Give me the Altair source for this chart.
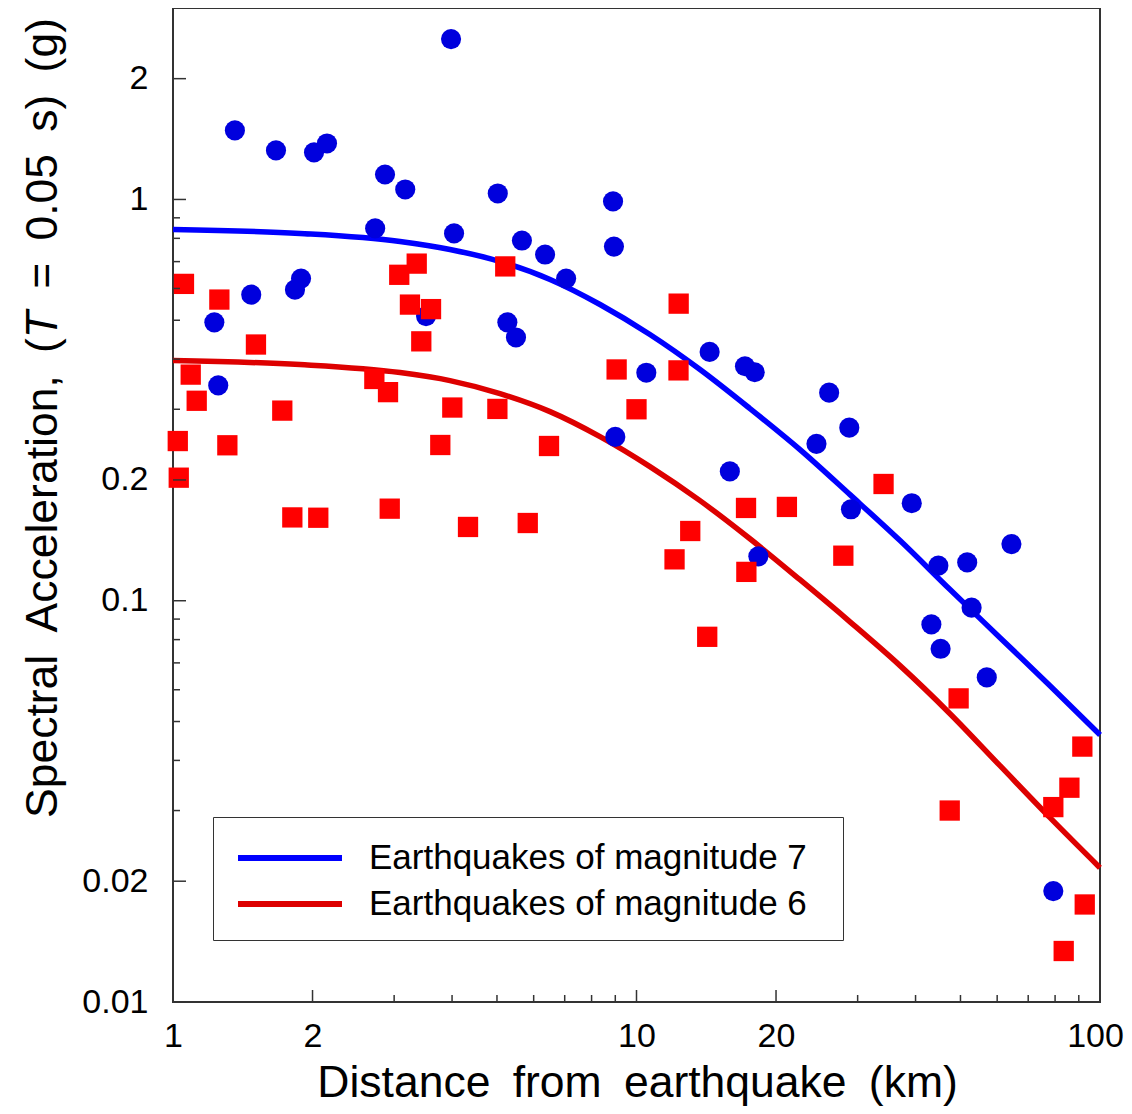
import altair as alt
import pandas as pd

# ---------------- data ----------------
blue_x = [3.98, 1.36, 1.668, 2.015, 2.149, 2.867, 3.17, 5.02, 8.9, 2.73, 4.04, 5.66, 6.35,
          8.94, 7.05, 1.833, 1.889, 1.475, 1.228, 1.252, 3.515, 5.265, 5.495, 14.38, 17.14,
          17.99, 10.5, 26.04, 28.78, 24.45, 9.0, 15.9, 39.25, 29.02, 64.4, 44.8, 51.7, 18.32,
          52.84, 43.27, 45.3, 56.98, 79.3]
blue_y = [2.51, 1.486, 1.325, 1.31, 1.379, 1.154, 1.059, 1.035, 0.989, 0.847, 0.823, 0.79, 0.729,
          0.763, 0.635, 0.596, 0.635, 0.579, 0.494, 0.344, 0.512, 0.494, 0.453, 0.417, 0.384,
          0.371, 0.37, 0.33, 0.27, 0.246, 0.256, 0.21, 0.175, 0.169, 0.1384, 0.1223, 0.1246, 0.129,
          0.0961, 0.0873, 0.0759, 0.0644, 0.0189]

red_x = [1.056, 1.259, 1.51, 3.077, 3.356, 3.245, 3.603, 3.433, 5.21, 1.092, 1.125, 1.024, 1.029,
         1.31, 1.721, 1.809, 2.058, 2.719, 2.91, 2.935, 4.005, 3.773, 4.33, 5.01, 6.475, 5.826,
         9.06, 10.0, 12.33, 12.32, 34.12, 17.23, 21.11, 13.06, 12.08, 17.26, 27.94, 14.21, 49.54,
         47.4, 79.3, 85.9, 91.6, 92.7, 83.5]
red_y = [0.616, 0.563, 0.435, 0.649, 0.692, 0.547, 0.533, 0.443, 0.681, 0.366, 0.315, 0.25, 0.2026,
         0.244, 0.2977, 0.1613, 0.161, 0.357, 0.331, 0.1696, 0.303, 0.2444, 0.1527, 0.3006, 0.243, 0.1562,
         0.377, 0.30, 0.55, 0.375, 0.1954, 0.1703, 0.1713, 0.1492, 0.1268, 0.118, 0.1295, 0.0813, 0.0571,
         0.030, 0.0306, 0.0342, 0.0433, 0.0175, 0.0134]

curve_x = [1.0, 1.879, 3.089, 3.959, 5.076, 6.508, 8.342, 10.69, 13.71, 17.57, 22.53, 28.88,
           37.03, 47.47, 60.85, 78.0, 100.0]
m7_y = [0.8417, 0.8227, 0.7857, 0.7504, 0.7004, 0.6317, 0.5472, 0.4606, 0.3768, 0.3012, 0.2380,
        0.1838, 0.1412, 0.1066, 0.0809, 0.0614, 0.0463]
m6_y = [0.3967, 0.3877, 0.3703, 0.3537, 0.3282, 0.2960, 0.2564, 0.2159, 0.1776, 0.1427, 0.1128,
        0.0886, 0.0689, 0.0523, 0.0388, 0.0288, 0.0216]

series_names = ["Earthquakes of magnitude 7", "Earthquakes of magnitude 6"]

x_major = [1, 2, 10, 20, 100]
x_minor = [3, 4, 5, 6, 7, 8, 9, 30, 40, 50, 60, 70, 80, 90]
y_major = [0.01, 0.02, 0.1, 0.2, 1, 2]
y_minor = [0.03, 0.04, 0.05, 0.06, 0.07, 0.08, 0.09, 0.3, 0.4, 0.5, 0.6, 0.7, 0.8, 0.9]

# ---------------- tables ----------------
blue_df = pd.DataFrame({"x": blue_x, "y": blue_y})
red_df = pd.DataFrame({"x": red_x, "y": red_y})
curve_df = pd.concat([
    pd.DataFrame({"x": curve_x, "y": m7_y, "series": series_names[0]}),
    pd.DataFrame({"x": curve_x, "y": m6_y, "series": series_names[1]}),
])

FONT = "Liberation Sans, Arial, sans-serif"
TS = 44.5
W, H = 927, 994
xs = alt.Scale(type="log", domain=[1, 100], nice=False)
ys = alt.Scale(type="log", domain=[0.01, 3], nice=False)

x_axis = alt.Axis(values=x_major, format="~g", ticks=False, tickSize=0, domain=False, grid=False,
                  labelFont=FONT, labelFontSize=34, labelColor="black", labelPadding=17,
                  labelFlush=False, labelOverlap=False,
                  labelOffset={"condition": {"test": "datum.value == 100", "value": -5}, "value": 0},
                  title="Distance\u2002from\u2002earthquake\u2002(km)", titleFont=FONT,
                  titleFontSize=TS, titleFontWeight="normal", titleColor="black",
                  titleX=464, titleY=94, titleBaseline="alphabetic", titleAlign="center")
y_axis = alt.Axis(values=y_major, format="~g", ticks=False, tickSize=0, domain=False, grid=False,
                  labelFont=FONT, labelFontSize=34, labelColor="black", labelPadding=25,
                  labelFlush=False, labelOverlap=False, title=None)

def X(field):
    return alt.X(field, scale=xs, axis=x_axis)

def Y(field):
    return alt.Y(field, scale=ys, axis=y_axis)

lines = alt.Chart(curve_df).mark_line(strokeWidth=5.5, interpolate="monotone").encode(
    x=X("x:Q"), y=Y("y:Q"),
    color=alt.Color("series:N",
                    scale=alt.Scale(domain=series_names, range=["#0000FF", "#DD0000"]),
                    legend=alt.Legend(orient="none", legendX=40, legendY=809, title=None,
                                      direction="vertical", padding=18, strokeColor="#333",
                                      fillColor="white", labelFont=FONT, labelFontSize=35,
                                      labelColor="black", labelLimit=1000,
                                      labelExpr="datum.label + '\u2002\u200b'",
                                      symbolType="M-2.6,0H2.6", symbolSize=1600,
                                      symbolStrokeWidth=6, symbolOffset=36, labelOffset=56,
                                      rowPadding=5)),
    detail="series:N",
)

circles = alt.Chart(blue_df).mark_circle(size=405, color="#0000DD", opacity=1).encode(
    x=X("x:Q"), y=Y("y:Q"))

squares = alt.Chart(red_df).mark_square(size=412, color="#FF0000", opacity=1).encode(
    x=X("x:Q"), y=Y("y:Q"))

def xticks(vals, length):
    return alt.Chart(pd.DataFrame({"v": vals})).mark_rule(color="#333", strokeWidth=1.5).encode(
        x=X("v:Q"), y=alt.value(H), y2=alt.value(H - length))

def yticks(vals, length):
    return alt.Chart(pd.DataFrame({"v": vals})).mark_rule(color="#333", strokeWidth=1.5).encode(
        y=Y("v:Q"), x=alt.value(0), x2=alt.value(length))

one = pd.DataFrame({"k": [0]})

def vtext(txt, ypos, italic=False):
    kw = dict(text=txt, angle=270, align="left", baseline="alphabetic", font=FONT,
              fontSize=TS, color="black")
    if italic:
        kw["fontStyle"] = "italic"
    return alt.Chart(one).mark_text(**kw).encode(x=alt.value(-116), y=alt.value(ypos))

ytitle = [
    vtext("Spectral\u2002Acceleration,\u2002(", 810),
    vtext("T", 330.2, italic=True),
    vtext("=\u20020.05\u2002s)\u2002(g)", 280.8),
]

chart = alt.layer(
    lines, circles, squares,
    xticks(x_major, 12), xticks(x_minor, 7), yticks(y_major, 13), yticks(y_minor, 7),
    *ytitle,
).properties(
    width=W, height=H, background="white",
    autosize=alt.AutoSizeParams(type="none"),
    padding={"left": 165, "top": 0, "right": 24, "bottom": 104},
).configure_view(stroke="#333", strokeWidth=2)

chart.save("out.html", embed_options={"renderer": "svg", "actions": False})
